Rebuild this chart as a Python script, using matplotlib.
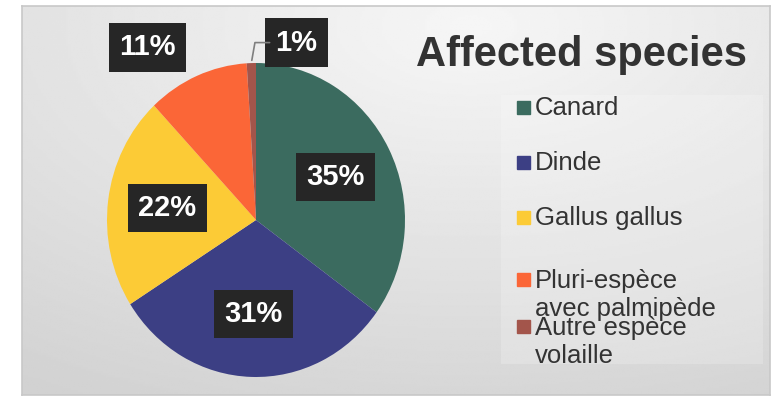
import numpy as np
import matplotlib.pyplot as plt
from matplotlib.patches import Rectangle

plt.rcParams['font.family'] = ['Liberation Sans', 'DejaVu Sans']

# data
species = ["Canard", "Dinde", "Gallus gallus", "Pluri-espèce\navec palmipède", "Autre espèce\nvolaille"]
shares = [35, 31, 22, 11, 1]
colors = ["#3b6b5f", "#3c3f84", "#fccb36", "#fb6637", "#a3554b"]
title = "Affected species"

W, H = 778, 401
fig = plt.figure(figsize=(W / 100, H / 100), dpi=100)
fig.patch.set_facecolor("white")

# grey gradient panel behind the chart
bg = fig.add_axes([22 / W, 6 / H, 748 / W, 389 / H])
yy, xx = np.mgrid[0:1:200j, 0:1:300j]
dist = np.sqrt(((xx - 0.6) * 1.0) ** 2 + ((yy - 0.05) * 1.0) ** 2)
shade = 0.965 - 0.13 * np.clip(dist, 0, 1.1)
bg.imshow(shade, cmap="gray", vmin=0, vmax=1, aspect="auto", extent=[0, 1, 0, 1], origin="upper")
bg.add_patch(Rectangle((0.64, 0.08), 0.35, 0.69, color="white", alpha=0.2, lw=0))
bg.set_xlim(0, 1)
bg.set_ylim(0, 1)
bg.set_xticks([])
bg.set_yticks([])
for s in bg.spines.values():
    s.set_color("#c8c8c8")
    s.set_linewidth(1.2)

# pie
ax = fig.add_axes([107 / W, 24 / H, 298 / W, 314 / H])
ax.set_facecolor("none")
wedges, _, pct = ax.pie(shares, colors=colors, startangle=90, counterclock=False,
                        autopct="%d%%", pctdistance=0.6,
                        textprops=dict(color="white", fontsize=21, fontweight="bold"))
ax.set_aspect("auto")
ax.set_xlim(-1, 1)
ax.set_ylim(-1, 1)

box = dict(boxstyle="square,pad=0.35", fc="#262626", ec="none")
for t in pct:
    t.set_bbox(box)

# the two thin slices get their labels outside the pie
pct[3].set_position((-0.73, 1.1))
pct[4].set_position((0.13, 1.13))
pct[4].set_ha("left")
ang = np.deg2rad((wedges[4].theta1 + wedges[4].theta2) / 2)
ax.annotate("", xy=(np.cos(ang), np.sin(ang)), xytext=(0.11, 1.13),
            arrowprops=dict(arrowstyle="-", color="#7f7f7f", lw=1.2,
                            connectionstyle="angle,angleA=0,angleB=80,rad=0"),
            annotation_clip=False)
for t in pct[3:]:
    t.set_clip_on(False)

# title
fig.text(582 / W, 1 - 55 / H, title, ha="center", va="center",
         fontsize=30, fontweight="bold", color="#333333")

# legend (markers sit on the first line of each label)
legend_y = [108, 163, 218, 295, 342]
fs = 18.5
line_px = fs * 100 / 72 * 1.2
for lab, col, y in zip(species, colors, legend_y):
    n = lab.count("\n")
    my = y - n * line_px / 2
    fig.patches.append(Rectangle((517 / W, 1 - (my + 6) / H), 13 / W, 13 / H,
                                 color=col, transform=fig.transFigure))
    fig.text(535 / W, 1 - y / H, lab, ha="left", va="center", fontsize=fs,
             color="#333333", linespacing=1.2)

fig.savefig("out.png", dpi=100)
